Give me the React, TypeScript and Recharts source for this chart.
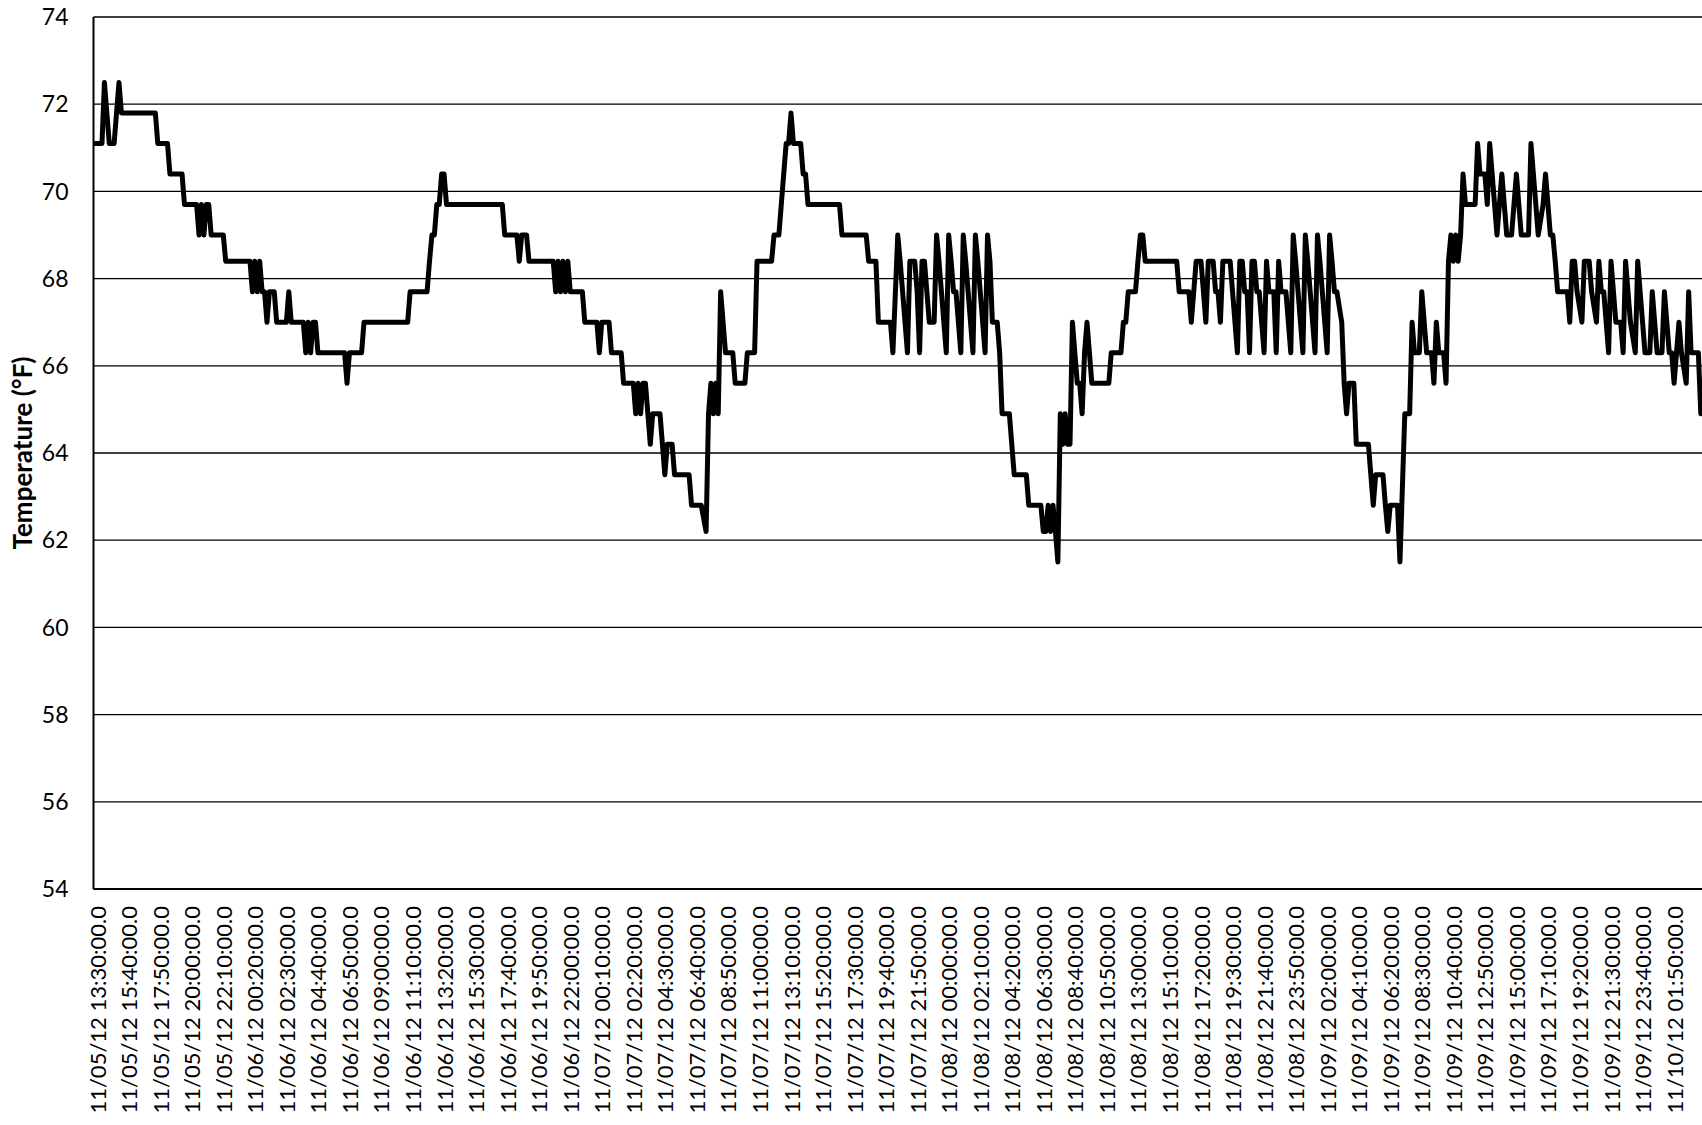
import React from 'react';
import { LineChart, Line, XAxis, YAxis, CartesianGrid } from 'recharts';

// Tick labels, one every 13 samples (10-minute logging interval)
const tickLabels: string[] = [
  '11/05/12 13:30:00.0', '11/05/12 15:40:00.0', '11/05/12 17:50:00.0', '11/05/12 20:00:00.0',
  '11/05/12 22:10:00.0', '11/06/12 00:20:00.0', '11/06/12 02:30:00.0', '11/06/12 04:40:00.0',
  '11/06/12 06:50:00.0', '11/06/12 09:00:00.0', '11/06/12 11:10:00.0', '11/06/12 13:20:00.0',
  '11/06/12 15:30:00.0', '11/06/12 17:40:00.0', '11/06/12 19:50:00.0', '11/06/12 22:00:00.0',
  '11/07/12 00:10:00.0', '11/07/12 02:20:00.0', '11/07/12 04:30:00.0', '11/07/12 06:40:00.0',
  '11/07/12 08:50:00.0', '11/07/12 11:00:00.0', '11/07/12 13:10:00.0', '11/07/12 15:20:00.0',
  '11/07/12 17:30:00.0', '11/07/12 19:40:00.0', '11/07/12 21:50:00.0', '11/08/12 00:00:00.0',
  '11/08/12 02:10:00.0', '11/08/12 04:20:00.0', '11/08/12 06:30:00.0', '11/08/12 08:40:00.0',
  '11/08/12 10:50:00.0', '11/08/12 13:00:00.0', '11/08/12 15:10:00.0', '11/08/12 17:20:00.0',
  '11/08/12 19:30:00.0', '11/08/12 21:40:00.0', '11/08/12 23:50:00.0', '11/09/12 02:00:00.0',
  '11/09/12 04:10:00.0', '11/09/12 06:20:00.0', '11/09/12 08:30:00.0', '11/09/12 10:40:00.0',
  '11/09/12 12:50:00.0', '11/09/12 15:00:00.0', '11/09/12 17:10:00.0', '11/09/12 19:20:00.0',
  '11/09/12 21:30:00.0', '11/09/12 23:40:00.0', '11/10/12 01:50:00.0',
];

const yTicks: number[] = [54, 56, 58, 60, 62, 64, 66, 68, 70, 72, 74];

// [sample index (10-min steps from 11/05 13:30), temperature °F] at each vertex of the trace
type Pt = [number, number];

const nov05: Pt[] = [
  [-1, 71.1], [2, 71.1], [3, 72.5], [4, 71.8], [5, 71.1], [7, 71.1], [8, 71.8], [9, 72.5], [10, 71.8],
  [24, 71.8], [25, 71.1], [29, 71.1], [30, 70.4], [35, 70.4], [36, 69.7], [41, 69.7], [42, 69.0],
  [43, 69.7], [44, 69.0], [45, 69.7], [46, 69.7], [47, 69.0], [52, 69.0], [53, 68.4], [62, 68.4],
];

const nov06: Pt[] = [
  [63, 68.4], [64, 67.7], [65, 68.4], [66, 67.7], [67, 68.4], [68, 67.7], [69, 67.7], [70, 67.0],
  [71, 67.7], [73, 67.7], [74, 67.0], [78, 67.0], [79, 67.7], [80, 67.0], [85, 67.0], [86, 66.3],
  [87, 67.0], [88, 66.3], [89, 67.0], [90, 67.0], [91, 66.3], [102, 66.3], [103, 65.6], [104, 66.3],
  [109, 66.3], [110, 67.0], [128, 67.0], [129, 67.7], [136, 67.7], [137, 68.4], [138, 69.0],
  [139, 69.0], [140, 69.7], [141, 69.7], [142, 70.4], [143, 70.4], [144, 69.7], [167, 69.7],
  [168, 69.0], [173, 69.0], [174, 68.4], [175, 69.0], [177, 69.0], [178, 68.4], [188, 68.4],
  [189, 67.7], [190, 68.4], [191, 67.7], [192, 68.4], [193, 67.7], [194, 68.4], [195, 67.7],
  [200, 67.7], [201, 67.0], [206, 67.0],
];

const nov07: Pt[] = [
  [207, 66.3], [208, 67.0], [211, 67.0], [212, 66.3], [216, 66.3], [217, 65.6], [221, 65.6],
  [222, 64.9], [223, 65.6], [224, 64.9], [225, 65.6], [226, 65.6], [227, 64.9], [228, 64.2],
  [229, 64.9], [232, 64.9], [233, 64.2], [234, 63.5], [235, 64.2], [237, 64.2], [238, 63.5],
  [244, 63.5], [245, 62.8], [249, 62.8], [251, 62.2], [252, 64.9], [253, 65.6], [254, 64.9],
  [255, 65.6], [256, 64.9], [257, 67.7], [258, 67.0], [259, 66.3], [262, 66.3], [263, 65.6],
  [267, 65.6], [268, 66.3], [271, 66.3], [272, 68.4], [278, 68.4], [279, 69.0], [281, 69.0],
  [282, 69.7], [283, 70.4], [284, 71.1], [285, 71.1], [286, 71.8], [287, 71.1], [290, 71.1],
  [291, 70.4], [292, 70.4], [293, 69.7], [306, 69.7], [307, 69.0], [317, 69.0], [318, 68.4],
  [321, 68.4], [322, 67.0], [327, 67.0], [328, 66.3], [330, 69.0], [331, 68.4], [332, 67.7],
  [333, 67.0], [334, 66.3], [335, 68.4], [337, 68.4], [338, 67.7], [339, 66.3], [340, 68.4],
  [341, 68.4], [342, 67.7], [343, 67.0], [345, 67.0], [346, 69.0], [347, 68.4], [348, 67.7],
  [349, 67.0], [350, 66.3],
];

const nov08: Pt[] = [
  [351, 69.0], [352, 68.4], [353, 67.7], [354, 67.7], [355, 67.0], [356, 66.3], [357, 69.0],
  [358, 68.4], [359, 67.7], [360, 67.0], [361, 66.3], [362, 69.0], [363, 68.4], [364, 67.7],
  [365, 67.0], [366, 66.3], [367, 69.0], [368, 68.4], [369, 67.0], [371, 67.0], [372, 66.3],
  [373, 64.9], [376, 64.9], [377, 64.2], [378, 63.5], [383, 63.5], [384, 62.8], [389, 62.8],
  [390, 62.2], [391, 62.2], [392, 62.8], [393, 62.2], [394, 62.8], [395, 62.2], [396, 61.5],
  [397, 64.9], [398, 64.2], [399, 64.9], [400, 64.2], [401, 64.2], [402, 67.0], [403, 66.3],
  [404, 65.6], [405, 65.6], [406, 64.9], [407, 66.3], [408, 67.0], [409, 66.3], [410, 65.6],
  [417, 65.6], [418, 66.3], [422, 66.3], [423, 67.0], [424, 67.0], [425, 67.7], [428, 67.7],
  [429, 68.4], [430, 69.0], [431, 69.0], [432, 68.4], [445, 68.4], [446, 67.7], [450, 67.7],
  [451, 67.0], [452, 67.7], [453, 68.4], [455, 68.4], [456, 67.7], [457, 67.0], [458, 68.4],
  [460, 68.4], [461, 67.7], [462, 67.7], [463, 67.0], [464, 68.4], [467, 68.4], [468, 67.7],
  [470, 66.3], [471, 68.4], [472, 68.4], [473, 67.7], [474, 67.7], [475, 66.3], [476, 68.4],
  [477, 68.4], [478, 67.7], [479, 67.7], [480, 67.0], [481, 66.3], [482, 68.4], [483, 67.7],
  [485, 67.7], [486, 66.3], [487, 68.4], [488, 67.7], [490, 67.7], [491, 67.0], [492, 66.3],
  [493, 69.0], [494, 68.4],
];

const nov09: Pt[] = [
  [495, 67.7], [496, 67.0], [497, 66.3], [498, 69.0], [499, 68.4], [500, 67.7], [501, 67.0],
  [502, 66.3], [503, 69.0], [504, 68.4], [505, 67.7], [506, 67.0], [507, 66.3], [508, 69.0],
  [509, 68.4], [510, 67.7], [511, 67.7], [513, 67.0], [514, 65.6], [515, 64.9], [516, 65.6],
  [518, 65.6], [519, 64.2], [524, 64.2], [525, 63.5], [526, 62.8], [527, 63.5], [530, 63.5],
  [531, 62.8], [532, 62.2], [533, 62.8], [536, 62.8], [537, 61.5], [539, 64.9], [541, 64.9],
  [542, 67.0], [543, 66.3], [545, 66.3], [546, 67.7], [547, 67.0], [548, 66.3], [550, 66.3],
  [551, 65.6], [552, 67.0], [553, 66.3], [555, 66.3], [556, 65.6], [557, 68.4], [558, 69.0],
  [559, 68.4], [560, 69.0], [561, 68.4], [562, 69.0], [563, 70.4], [564, 69.7], [568, 69.7],
  [569, 71.1], [570, 70.4], [572, 70.4], [573, 69.7], [574, 71.1], [575, 70.4], [576, 69.7],
  [577, 69.0], [578, 69.7], [579, 70.4], [580, 69.7], [581, 69.0], [583, 69.0], [584, 69.7],
  [585, 70.4], [586, 69.7], [587, 69.0], [590, 69.0], [591, 71.1], [592, 70.4], [593, 69.7],
  [594, 69.0], [596, 69.7], [597, 70.4], [598, 69.7], [599, 69.0], [600, 69.0], [601, 68.4],
  [602, 67.7], [606, 67.7], [607, 67.0], [608, 68.4], [609, 68.4], [610, 67.7], [612, 67.0],
  [613, 68.4], [615, 68.4], [616, 67.7], [618, 67.0], [619, 68.4], [620, 67.7], [621, 67.7],
  [622, 67.0], [623, 66.3], [624, 68.4], [625, 67.7], [626, 67.0], [628, 67.0], [629, 66.3],
  [630, 68.4], [631, 67.7], [632, 67.0], [634, 66.3], [635, 68.4], [636, 67.7], [637, 67.0],
  [638, 66.3],
];

const nov10: Pt[] = [
  [639, 66.3], [640, 66.3], [641, 67.7], [642, 67.0], [643, 66.3], [645, 66.3], [646, 67.7],
  [647, 67.0], [648, 66.3], [649, 66.3], [650, 65.6], [651, 66.3], [652, 67.0], [653, 66.3],
  [655, 65.6], [656, 67.7], [657, 66.3], [660, 66.3], [661, 64.9],
];

const series = [...nov05, ...nov06, ...nov07, ...nov08, ...nov09, ...nov10].map(([k, v]) => ({ k, v }));
const xTicks = tickLabels.map((_, i) => i * 13);

const FONT = 'Lato, "Open Sans", sans-serif';

const XTick = (props: any) => {
  const { x, y, payload } = props;
  const label = tickLabels[Math.round(payload.value / 13)];
  const ty = y + 17;
  return (
    <text
      x={x}
      y={ty}
      transform={`rotate(-90 ${x} ${ty})`}
      textAnchor="end"
      dominantBaseline="central"
      fontFamily={FONT}
      fontSize={22}
      fill="#000"
    >
      {label}
    </text>
  );
};

const YLabel = (props: any) => {
  const vb = props.viewBox || { x: 0, y: 17, width: 93.5, height: 872 };
  const cx = vb.x + 22;
  const cy = vb.y + vb.height / 2;
  return (
    <text
      x={cx}
      y={cy}
      transform={`rotate(-90 ${cx} ${cy})`}
      textAnchor="middle"
      dominantBaseline="central"
      fontFamily={FONT}
      fontWeight="bold"
      fontSize={26}
      fill="#000"
    >
      Temperature (°F)
    </text>
  );
};

export default function App() {
  return (
    <div
      style={{
        position: 'fixed',
        left: 0,
        top: 0,
        width: 1702,
        height: 1125,
        overflow: 'hidden',
        background: '#fff',
      }}
    >
      <LineChart width={1702} height={1125} data={series} margin={{ top: 17, right: 0, bottom: 0, left: 0 }}>
        <CartesianGrid vertical={false} stroke="#000" strokeWidth={1.3} />
        <XAxis
          dataKey="k"
          type="number"
          domain={[-1.5, 661.5]}
          ticks={xTicks}
          interval={0}
          allowDataOverflow
          tick={<XTick />}
          tickLine={false}
          tickSize={0}
          tickMargin={0}
          height={236}
          axisLine={{ stroke: '#000', strokeWidth: 2 }}
        />
        <YAxis
          type="number"
          domain={[54, 74]}
          ticks={yTicks}
          interval={0}
          allowDataOverflow
          tickLine={false}
          tickSize={0}
          tickMargin={25}
          width={93.5}
          axisLine={{ stroke: '#000', strokeWidth: 2 }}
          tick={{ fill: '#000', fontSize: 23, fontFamily: FONT }}
          label={{ content: YLabel }}
        />
        <Line
          dataKey="v"
          type="linear"
          stroke="#000"
          strokeWidth={5}
          strokeLinejoin="round"
          strokeLinecap="round"
          dot={false}
          isAnimationActive={false}
        />
      </LineChart>
    </div>
  );
}
